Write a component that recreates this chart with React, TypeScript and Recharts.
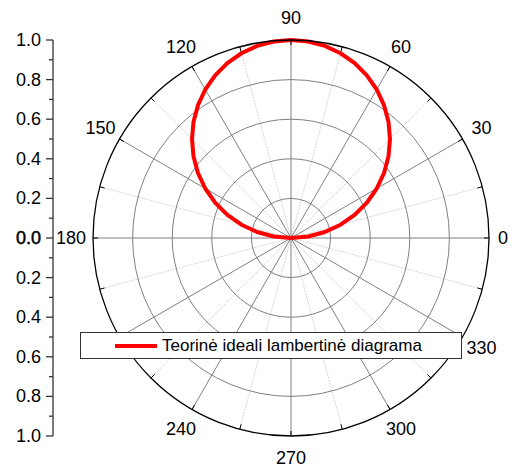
import {
  Legend,
  LineChart,
  PolarAngleAxis,
  PolarGrid,
  PolarRadiusAxis,
  Radar,
  RadarChart,
  YAxis,
} from "recharts";

// polar angles in degrees (0 at the right, counter-clockwise)
const angles = [
  0, 5, 10, 15, 20, 25, 30, 35, 40, 45, 50, 55, 60, 65, 70, 75, 80, 85, 90,
  95, 100, 105, 110, 115, 120, 125, 130, 135, 140, 145, 150, 155, 160, 165,
  170, 175, 180, 185, 190, 195, 200, 205, 210, 215, 220, 225, 230, 235, 240,
  245, 250, 255, 260, 265, 270, 275, 280, 285, 290, 295, 300, 305, 310, 315,
  320, 325, 330, 335, 340, 345, 350, 355,
];

// relative intensity
const intensity = [
  0, 0.087, 0.174, 0.259, 0.342, 0.423, 0.5, 0.574, 0.643, 0.707, 0.766,
  0.819, 0.866, 0.906, 0.94, 0.966, 0.985, 0.996, 1.0, 0.996, 0.985, 0.966,
  0.94, 0.906, 0.866, 0.819, 0.766, 0.707, 0.643, 0.574, 0.5, 0.423, 0.342,
  0.259, 0.174, 0.087, 0, 0, 0, 0, 0, 0, 0, 0, 0, 0, 0, 0, 0, 0, 0, 0, 0, 0,
  0, 0, 0, 0, 0, 0, 0, 0, 0, 0, 0, 0, 0, 0, 0, 0, 0, 0,
];

const majorRings = [0.2, 0.4, 0.6, 0.8];
const minorRings = [0.1, 0.3, 0.5, 0.7, 0.9];
const majorSpokes = [0, 30, 60, 90, 120, 150, 180, 210, 240, 270, 300, 330];
const minorSpokes = [15, 45, 75, 105, 135, 165, 195, 225, 255, 285, 315, 345];
const angleTicks = [
  0, 15, 30, 45, 60, 75, 90, 105, 120, 135, 150, 165, 180, 195, 210, 225, 240,
  255, 270, 285, 300, 315, 330, 345,
];
const radiusTicks = [
  -1, -0.9, -0.8, -0.7, -0.6, -0.5, -0.4, -0.3, -0.2, -0.1, 0, 0.1, 0.2, 0.3,
  0.4, 0.5, 0.6, 0.7, 0.8, 0.9, 1,
];
const seriesName = "Teorinė ideali lambertinė diagrama";

const data = angles.map((angle, i) => ({ angle, r: intensity[i] }));
const axisRows = radiusTicks.map((v) => ({ v }));

const FONT = '"Liberation Sans", Arial, Helvetica, sans-serif';
const CX = 291;
const CY = 238;
const R = 198;

function AngleTick(props: any) {
  const { payload } = props;
  const a = Number(payload.value);
  const rad = (payload.coordinate * Math.PI) / 180;
  const ux = Math.cos(rad);
  const uy = -Math.sin(rad);
  const cx = typeof props.cx === "number" ? props.cx : CX;
  const cy = typeof props.cy === "number" ? props.cy : CY;
  const x = cx + R * ux;
  const y = cy + R * uy;
  const off = a === 0 ? 14 : 22;
  return (
    <g>
      <line x1={x} y1={y} x2={x - ux * 5} y2={y - uy * 5} stroke="#000" strokeWidth={1} />
      {a % 30 === 0 && (
        <text
          x={x + ux * off}
          y={y + uy * off}
          textAnchor="middle"
          dominantBaseline="central"
          fontSize={18}
          fontFamily={FONT}
          fill="#000"
        >
          {a}
        </text>
      )}
    </g>
  );
}

function RadiusTick(props: any) {
  const { x, y, payload } = props;
  const v = Number(payload.value);
  const major = Math.round(v * 10) % 2 === 0;
  return (
    <g>
      <line x1={x - (major ? 7 : 4)} y1={y} x2={x} y2={y} stroke="#333" strokeWidth={1.3} />
      {major && (
        <text
          x={x - 12}
          y={y}
          textAnchor="end"
          dominantBaseline="central"
          fontSize={18}
          fontFamily={FONT}
          fill="#000"
          stroke={v === 0 ? "#000" : "none"}
          strokeWidth={0.5}
        >
          {Math.abs(v).toFixed(1)}
        </text>
      )}
    </g>
  );
}

function LegendBox(props: any) {
  const item = (props.payload || [])[0];
  return (
    <div
      style={{
        boxSizing: "border-box",
        width: 382,
        height: 27,
        border: "1px solid #333",
        background: "#fff",
        display: "flex",
        alignItems: "center",
        fontFamily: FONT,
        fontSize: 17,
        color: "#000",
      }}
    >
      <span
        style={{
          display: "inline-block",
          width: 42,
          height: 4,
          marginLeft: 34,
          marginRight: 5,
          background: item?.color ?? "#ff0000",
        }}
      />
      <span>{item?.value ?? seriesName}</span>
    </div>
  );
}

export default function App() {
  return (
    <div
      style={{
        position: "absolute",
        left: 0,
        top: 0,
        width: 511,
        height: 469,
        background: "#fff",
        fontFamily: FONT,
      }}
    >
      <div style={{ position: "absolute", left: 0, top: 0 }}>
        <RadarChart
          width={511}
          height={469}
          data={data}
          cx={CX}
          cy={CY}
          outerRadius={R}
          startAngle={0}
          endAngle={360}
          margin={{ top: 0, right: 0, bottom: 0, left: 0 }}
        >
          <PolarGrid polarAngles={minorSpokes} polarRadius={[]} stroke="#d6d6d6" strokeDasharray="2 1" />
          <PolarGrid radiusAxisId="minor" gridType="circle" radialLines={false} stroke="#c4c4c4" strokeDasharray="1 2" />
          <PolarGrid radiusAxisId="major" gridType="circle" radialLines={false} stroke="#808080" />
          <PolarGrid polarAngles={majorSpokes} polarRadius={[]} stroke="#808080" />
          <PolarRadiusAxis radiusAxisId="minor" type="number" domain={[0, 1]} ticks={minorRings} tick={false} axisLine={false} />
          <PolarRadiusAxis radiusAxisId="major" type="number" domain={[0, 1]} ticks={majorRings} tick={false} axisLine={false} />
          <PolarAngleAxis
            dataKey="angle"
            type="number"
            domain={[0, 360]}
            ticks={angleTicks}
            axisLineType="circle"
            axisLine={{ stroke: "#000", strokeWidth: 1.3 }}
            tickLine={false}
            tick={(p: any) => <AngleTick {...p} />}
          />
          <Radar
            name={seriesName}
            dataKey="r"
            radiusAxisId="major"
            stroke="#ff0000"
            strokeWidth={4}
            strokeLinejoin="round"
            fill="none"
            fillOpacity={0}
            dot={false}
            legendType="line"
            isAnimationActive={false}
          />
          <Legend
            content={(p: any) => <LegendBox {...p} />}
            wrapperStyle={{ left: 80, top: 332, width: 382, height: 27, bottom: "auto" }}
          />
        </RadarChart>
      </div>
      <div style={{ position: "absolute", left: 0, top: 0 }}>
        <LineChart
          width={80}
          height={469}
          data={axisRows}
          margin={{ top: 40, right: 0, bottom: 33, left: 0 }}
        >
          <YAxis
            dataKey="v"
            type="number"
            domain={[-1, 1]}
            allowDataOverflow
            ticks={radiusTicks}
            interval={0}
            width={53}
            tickSize={0}
            tickMargin={0}
            tickLine={false}
            axisLine={{ stroke: "#333", strokeWidth: 1.3 }}
            tick={(p: any) => <RadiusTick {...p} />}
          />
        </LineChart>
      </div>
    </div>
  );
}
